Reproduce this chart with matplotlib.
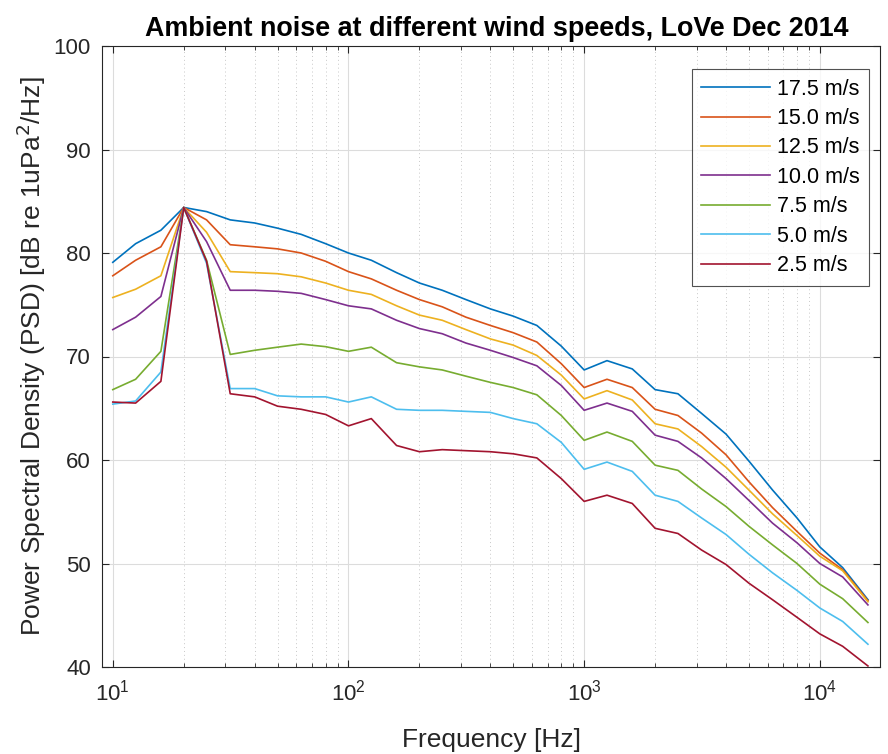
import matplotlib
matplotlib.use("Agg")
import matplotlib.pyplot as plt
from matplotlib.ticker import LogLocator, NullFormatter, FixedLocator

plt.rcParams['font.family'] = ['Liberation Sans', 'DejaVu Sans']

freqs = [10, 12.5, 16, 20, 25, 31.5, 40, 50, 63, 80, 100, 125, 160, 200, 250, 315,
         400, 500, 630, 800, 1000, 1250, 1600, 2000, 2500, 3150, 4000, 5000, 6300,
         8000, 10000, 12500, 16000]

labels = ["17.5 m/s", "15.0 m/s", "12.5 m/s", "10.0 m/s", "7.5 m/s", "5.0 m/s", "2.5 m/s"]

psd_17_5 = [79.1, 80.9, 82.2, 84.4, 84.0, 83.2, 82.9, 82.4, 81.8, 80.9, 80.0, 79.3, 78.1, 77.1,
            76.4, 75.5, 74.6, 73.9, 73.0, 71.0, 68.7, 69.6, 68.8, 66.8, 66.4, 64.5, 62.5,
            59.9, 57.1, 54.4, 51.6, 49.6, 46.5]
psd_15_0 = [77.8, 79.3, 80.6, 84.4, 83.2, 80.8, 80.6, 80.4, 80.0, 79.2, 78.2, 77.5, 76.4, 75.5,
            74.8, 73.8, 73.0, 72.3, 71.4, 69.3, 67.0, 67.8, 67.0, 64.9, 64.3, 62.6, 60.5,
            57.9, 55.4, 53.1, 51.0, 49.4, 46.4]
psd_12_5 = [75.7, 76.5, 77.8, 84.4, 82.0, 78.2, 78.1, 78.0, 77.7, 77.1, 76.4, 76.0, 74.9, 74.0,
            73.5, 72.6, 71.7, 71.1, 70.1, 68.2, 65.9, 66.7, 65.8, 63.5, 63.0, 61.3, 59.3,
            57.1, 54.8, 52.7, 50.7, 49.3, 46.3]
psd_10_0 = [72.6, 73.8, 75.8, 84.4, 81.1, 76.4, 76.4, 76.3, 76.1, 75.5, 74.9, 74.6, 73.5, 72.7,
            72.2, 71.3, 70.6, 69.9, 69.1, 67.2, 64.8, 65.5, 64.7, 62.4, 61.8, 60.2, 58.2,
            56.1, 53.9, 52.0, 50.0, 48.7, 46.0]
psd_7_5 = [66.8, 67.8, 70.5, 84.4, 79.3, 70.2, 70.6, 70.9, 71.2, 70.95, 70.5, 70.9, 69.4, 69.0,
           68.7, 68.1, 67.5, 67.0, 66.3, 64.3, 61.9, 62.7, 61.8, 59.5, 59.0, 57.2, 55.5,
           53.6, 51.8, 50.0, 48.0, 46.6, 44.3]
psd_5_0 = [65.4, 65.7, 68.5, 84.4, 79.0, 66.9, 66.9, 66.2, 66.1, 66.1, 65.6, 66.1, 64.9, 64.8,
           64.8, 64.7, 64.6, 64.0, 63.5, 61.7, 59.1, 59.8, 58.9, 56.6, 56.0, 54.4, 52.8,
           50.9, 49.1, 47.4, 45.7, 44.4, 42.2]
psd_2_5 = [65.6, 65.5, 67.6, 84.4, 79.2, 66.4, 66.1, 65.2, 64.9, 64.4, 63.3, 64.0, 61.4, 60.8,
           61.0, 60.9, 60.8, 60.6, 60.2, 58.2, 56.0, 56.6, 55.8, 53.4, 52.9, 51.3, 49.9,
           48.1, 46.5, 44.8, 43.2, 42.0, 40.1]

series = [psd_17_5, psd_15_0, psd_12_5, psd_10_0, psd_7_5, psd_5_0, psd_2_5]
colors = ["#0072BD", "#D95319", "#EDB120", "#7E2F8E", "#77AC30", "#4DBEEE", "#A2142F"]

W, H = 888, 754
fig = plt.figure(figsize=(W / 100, H / 100), dpi=100)
ax = fig.add_axes([102 / W, 1 - 667 / H, (880 - 102) / W, (667 - 46) / H])

for vals, lab, col in zip(series, labels, colors):
    ax.plot(freqs, vals, color=col, lw=1.2, label=lab)

ax.set_xscale('log')
ax.set_xlim(9, 18000)
ax.set_ylim(40, 100)
ax.yaxis.set_major_locator(FixedLocator([40, 50, 60, 70, 80, 90, 100]))
ax.xaxis.set_major_locator(LogLocator(base=10, numticks=10))
ax.xaxis.set_minor_locator(LogLocator(base=10, subs=range(2, 10), numticks=20))
ax.xaxis.set_minor_formatter(NullFormatter())

ax.grid(True, which='major', color='#dcdcdc', lw=0.8)
ax.grid(True, which='minor', axis='x', color='#c8c8c8', lw=0.7, ls=(0, (1, 3)))
ax.set_axisbelow(True)
for s in ax.spines.values():
    s.set_color('#262626')
    s.set_linewidth(0.8)
ax.tick_params(direction='in', which='both', top=True, right=True, labelsize=16,
               colors='#262626', length=5)
ax.tick_params(axis='y', pad=8)
ax.tick_params(axis='x', pad=9)
ax.tick_params(which='minor', length=3)

ax.set_title("Ambient noise at different wind speeds, LoVe Dec 2014",
             fontsize=19.4, fontweight='bold', pad=7, x=0.508)
ax.set_xlabel("Frequency [Hz]", fontsize=19, color='#262626', labelpad=16)
ax.set_ylabel("Power Spectral Density (PSD) [dB re 1uPa$^2$/Hz]", fontsize=19,
              color='#262626', labelpad=4)

leg = ax.legend(loc='upper right', bbox_to_anchor=(0.9859, 0.963), fontsize=15.5,
                frameon=True, fancybox=False, edgecolor='#262626', handlelength=3.2,
                handletextpad=0.3, borderaxespad=0.0, labelspacing=0.39, borderpad=0.45)
leg.get_frame().set_linewidth(0.8)

fig.savefig("out.png", dpi=100)
